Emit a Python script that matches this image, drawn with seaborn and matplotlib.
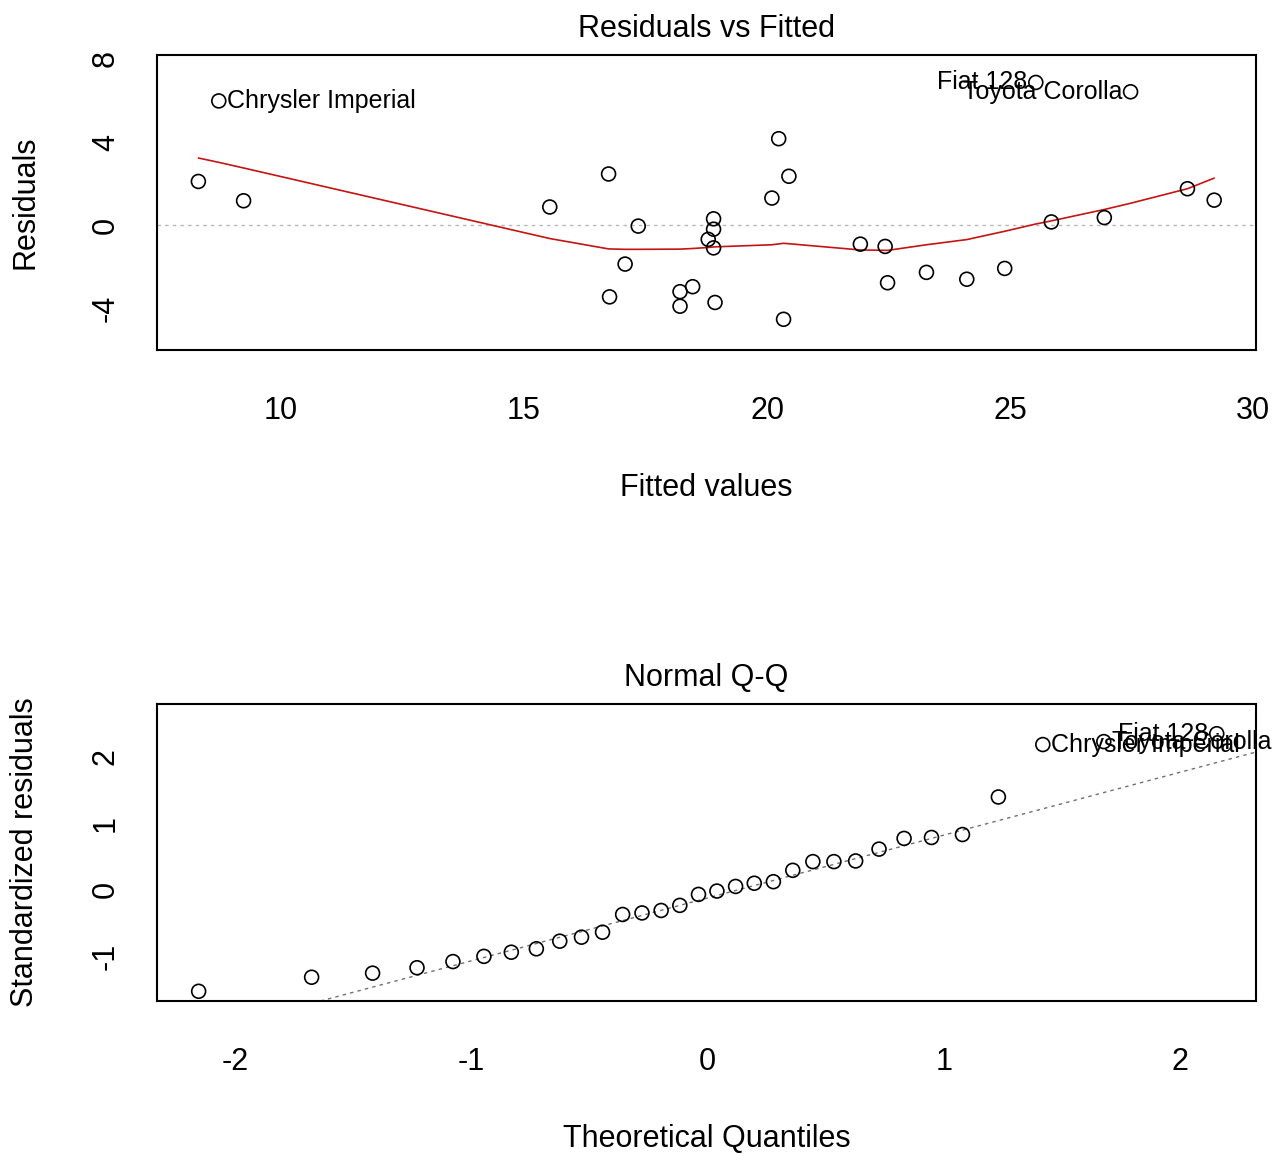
import matplotlib
matplotlib.use("Agg")
import matplotlib.pyplot as plt
import seaborn as sns
import pandas as pd

# Residuals vs Fitted (lm mpg ~ wt)
cars = ["Mazda RX4", "Mazda RX4 Wag", "Datsun 710", "Hornet 4 Drive", "Hornet Sportabout",
        "Valiant", "Duster 360", "Merc 240D", "Merc 230", "Merc 280", "Merc 280C",
        "Merc 450SE", "Merc 450SL", "Merc 450SLC", "Cadillac Fleetwood", "Lincoln Continental",
        "Chrysler Imperial", "Fiat 128", "Honda Civic", "Toyota Corolla", "Toyota Corona",
        "Dodge Challenger", "AMC Javelin", "Camaro Z28", "Pontiac Firebird", "Fiat X1-9",
        "Porsche 914-2", "Lotus Europa", "Ford Pantera L", "Ferrari Dino", "Maserati Bora",
        "Volvo 142E"]
fitted = [23.28, 21.92, 24.89, 20.10, 18.90, 18.79, 18.21, 20.24, 20.45, 18.90, 18.90,
          15.53, 17.35, 17.08, 9.23, 8.30, 8.72, 25.53, 28.65, 27.48, 24.11, 18.47, 18.93,
          16.76, 16.74, 26.94, 25.85, 29.20, 20.34, 22.48, 18.21, 22.43]
residuals = [-2.28, -0.92, -2.09, 1.30, -0.20, -0.69, -3.91, 4.16, 2.35, 0.30, -1.10,
             0.87, -0.05, -1.88, 1.17, 2.10, 5.98, 6.87, 1.75, 6.42, -2.61, -2.97, -3.73,
             -3.46, 2.46, 0.36, 0.15, 1.20, -4.54, -2.78, -3.21, -1.03]

# smoother
smooth_x = [8.30, 8.72, 9.23, 15.53, 16.74, 17.08, 17.35, 18.21, 18.47, 18.79, 18.93,
            20.10, 20.34, 20.45, 21.92, 22.48, 23.28, 24.11, 24.89, 25.53, 25.85, 26.94,
            27.48, 28.65, 29.20]
smooth_y = [3.23, 3.02, 2.75, -0.65, -1.15, -1.17, -1.17, -1.16, -1.13, -1.08, -1.05,
            -0.95, -0.88, -0.90, -1.20, -1.22, -0.95, -0.70, -0.30, 0.05, 0.20, 0.75,
            1.05, 1.75, 2.26]

# Normal Q-Q
theoretical_q = [-2.154, -1.676, -1.418, -1.230, -1.078, -0.947, -0.831, -0.725,
                 -0.626, -0.534, -0.445, -0.360, -0.278, -0.197, -0.118, -0.039,
                 0.039, 0.118, 0.197, 0.278, 0.360, 0.445, 0.534, 0.626,
                 0.725, 0.831, 0.947, 1.078, 1.230, 1.418, 1.676, 2.154]
std_resid = [-1.515, -1.305, -1.244, -1.163, -1.071, -0.993, -0.931, -0.880,
             -0.766, -0.706, -0.632, -0.367, -0.344, -0.307, -0.231, -0.067,
             -0.017, 0.052, 0.100, 0.123, 0.293, 0.423, 0.423, 0.433,
             0.610, 0.770, 0.784, 0.828, 1.389, 2.173, 2.217, 2.335]
qq_names = [""] * 29 + ["Chrysler Imperial", "Toyota Corolla", "Fiat 128"]
qq_intercept = -0.12
qq_slope = 0.94

sns.set_style("white")
plt.rcParams['font.family'] = ['Liberation Sans', 'DejaVu Sans']
plt.rcParams['axes.unicode_minus'] = False
plt.rcParams['text.color'] = 'black'
plt.rcParams['axes.labelcolor'] = 'black'

FS = 22
LFS = 18

fig = plt.figure(figsize=(12.79, 11.54), dpi=100)
ax1 = fig.add_axes([0.1228, 0.6967, 0.8592, 0.2556])
ax2 = fig.add_axes([0.1228, 0.1326, 0.8592, 0.2574])

top_df = pd.DataFrame({'fitted': fitted, 'resid': residuals, 'car': cars})
smooth_df = pd.DataFrame({'x': smooth_x, 'y': smooth_y})
qq_df = pd.DataFrame({'q': theoretical_q, 'r': std_resid, 'car': qq_names})

# top panel
ax1.axhline(0, color='#b8b8b8', lw=1, ls=(0, (2.5, 3)), zorder=1)
sns.lineplot(data=smooth_df, x='x', y='y', ax=ax1, color='#c41414', lw=1.2,
             sort=False, zorder=2)
sns.scatterplot(data=top_df, x='fitted', y='resid', ax=ax1, s=100, marker='o',
                facecolor='none', edgecolor='black', linewidth=1.2, zorder=3)
for _, row in top_df.iterrows():
    if row['car'] == 'Chrysler Imperial':
        ax1.annotate(row['car'], (row['fitted'], row['resid']), xytext=(6, 0),
                     textcoords='offset points', ha='left', va='center',
                     fontsize=LFS, color='black')
    elif row['car'] in ('Fiat 128', 'Toyota Corolla'):
        ax1.annotate(row['car'], (row['fitted'], row['resid']), xytext=(-6, 0),
                     textcoords='offset points', ha='right', va='center',
                     fontsize=LFS, color='black')

ax1.set_xlim(7.45, 30.06)
ax1.set_ylim(-6.02, 8.19)
ax1.set_xticks([10, 15, 20, 25, 30])
ax1.set_yticks([-4, -2, 0, 2, 4, 6, 8])
ax1.set_yticklabels(['-4', '', '0', '', '4', '', '8'])
ax1.set_title('Residuals vs Fitted', fontsize=FS, pad=13, color='black')
ax1.set_xlabel('Fitted values', fontsize=FS, va='center')
ax1.set_ylabel('Residuals', fontsize=FS, va='center')
ax1.xaxis.set_label_coords(0.5, -0.468)
ax1.yaxis.set_label_coords(-0.120, 0.5)

# bottom panel
ax2.axline((0, qq_intercept), slope=qq_slope, color='#707070', lw=1,
           ls=(0, (2.5, 3)), zorder=1)
sns.scatterplot(data=qq_df, x='q', y='r', ax=ax2, s=100, marker='o',
                facecolor='none', edgecolor='black', linewidth=1.2, zorder=3)
for _, row in qq_df.iterrows():
    if row['car'] in ('Chrysler Imperial', 'Toyota Corolla'):
        ax2.annotate(row['car'], (row['q'], row['r']), xytext=(6, 0),
                     textcoords='offset points', ha='left', va='center',
                     fontsize=LFS, color='black')
    elif row['car'] == 'Fiat 128':
        ax2.annotate(row['car'], (row['q'], row['r']), xytext=(-6, 0),
                     textcoords='offset points', ha='right', va='center',
                     fontsize=LFS, color='black')

ax2.set_xlim(-2.33, 2.32)
ax2.set_ylim(-1.66, 2.78)
ax2.set_xticks([-2, -1, 0, 1, 2])
ax2.set_yticks([-1, 0, 1, 2])
ax2.set_title('Normal Q-Q', fontsize=FS, pad=13, color='black')
ax2.set_xlabel('Theoretical Quantiles', fontsize=FS, va='center')
ax2.set_ylabel('Standardized residuals', fontsize=FS, va='center')
ax2.xaxis.set_label_coords(0.5, -0.463)
ax2.yaxis.set_label_coords(-0.120, 0.5)

for ax in (ax1, ax2):
    for sp in ax.spines.values():
        sp.set_visible(True)
        sp.set_color('black')
        sp.set_linewidth(1.5)
    ax.tick_params(axis='both', direction='out', length=12, width=1.5,
                   color='black', labelsize=FS, labelcolor='black')
    ax.tick_params(axis='x', pad=21)
    ax.tick_params(axis='y', pad=14, labelrotation=90)
    for lab in ax.get_yticklabels():
        lab.set_va('center')
    ax.grid(False)

fig.savefig('out.png', dpi=100)
